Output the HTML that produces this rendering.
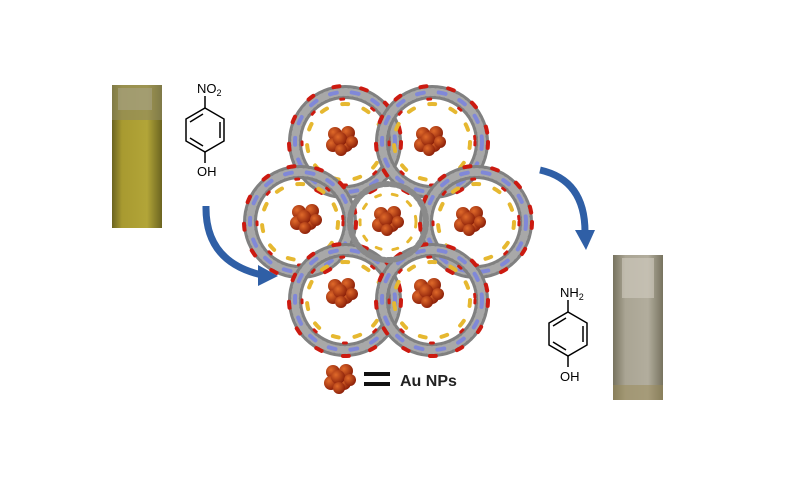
<!DOCTYPE html>
<html><head><meta charset="utf-8"><style>
html,body{margin:0;padding:0;background:#fff;}
body{width:794px;height:482px;overflow:hidden;position:relative;font-family:"Liberation Sans",sans-serif;}
</style></head><body>
<svg width="794" height="482" viewBox="0 0 794 482" xmlns="http://www.w3.org/2000/svg">
<defs>
<linearGradient id="lc" x1="0" y1="0" x2="1" y2="0">
<stop offset="0" stop-color="#6b6420"/><stop offset="0.2" stop-color="#a89a30"/><stop offset="0.7" stop-color="#b2a538"/><stop offset="1" stop-color="#6b6420"/></linearGradient>
<linearGradient id="rc" x1="0" y1="0" x2="1" y2="0">
<stop offset="0" stop-color="#77735f"/><stop offset="0.25" stop-color="#aaa594"/><stop offset="0.7" stop-color="#b2ad9d"/><stop offset="1" stop-color="#77735f"/></linearGradient>
<radialGradient id="au" cx="0.35" cy="0.35" r="0.7"><stop offset="0" stop-color="#e06a2a"/><stop offset="1" stop-color="#8a1e08"/></radialGradient>
<g id="cl">
<circle cx="-7" cy="-6" r="7" fill="url(#au)"/><circle cx="6" cy="-7" r="7" fill="url(#au)"/>
<circle cx="-9" cy="5" r="7" fill="url(#au)"/><circle cx="4" cy="5" r="7" fill="url(#au)"/>
<circle cx="-2" cy="-1" r="7" fill="url(#au)"/><circle cx="-1" cy="10" r="6" fill="url(#au)"/>
<circle cx="10" cy="2" r="6" fill="url(#au)"/>
</g>
<g id="pore">
<circle r="50" stroke="#808080" stroke-width="14"/>
<circle r="50" stroke="#a8a8a8" stroke-width="8" stroke-dasharray="2 3"/>
<circle r="56" stroke="#cc1a10" stroke-width="4" stroke-dasharray="6 22"/>
<circle r="50" stroke="#8088d8" stroke-width="4" stroke-dasharray="7 15"/>
<circle r="38" stroke="#e6b830" stroke-width="4" stroke-dasharray="6 16"/>
<circle r="43" stroke="#cc1a10" stroke-width="3" stroke-dasharray="3 30"/>
</g>
</defs>
<rect x="112" y="85" width="50" height="143" fill="url(#lc)"/>
<rect x="112" y="85" width="50" height="35" fill="#8e8862" opacity="0.6"/>
<rect x="118" y="88" width="34" height="22" fill="#a8a386" opacity="0.6"/>
<rect x="613" y="255" width="50" height="145" fill="url(#rc)"/>
<rect x="622" y="258" width="32" height="40" fill="#d0ccc0" opacity="0.6"/>
<rect x="613" y="385" width="50" height="15" fill="#9a8a55" opacity="0.5"/>
<g stroke="#000" stroke-width="1.5" fill="none">
<polygon points="205,108 224,119 224,141 205,152 186,141 186,119"/>
<line x1="220" y1="122" x2="220" y2="138"/><line x1="190" y1="122" x2="203" y2="114"/><line x1="190" y1="138" x2="203" y2="146"/>
<line x1="205" y1="108" x2="205" y2="96"/><line x1="205" y1="152" x2="205" y2="163"/>
</g>
<text x="197" y="93" font-size="13">NO<tspan font-size="9" dy="3">2</tspan></text>
<text x="197" y="176" font-size="13">OH</text>
<g stroke="#000" stroke-width="1.5" fill="none">
<polygon points="568,312 587,323 587,345 568,356 549,345 549,323"/>
<line x1="583" y1="326" x2="583" y2="342"/><line x1="553" y1="326" x2="566" y2="318"/><line x1="553" y1="342" x2="566" y2="350"/>
<line x1="568" y1="312" x2="568" y2="300"/><line x1="568" y1="356" x2="568" y2="367"/>
</g>
<text x="560" y="297" font-size="13">NH<tspan font-size="9" dy="3">2</tspan></text>
<text x="560" y="381" font-size="13">OH</text>
<path d="M206,206 Q205,262 262,275" stroke="#2f5fa6" stroke-width="7" fill="none"/>
<polygon points="258,265 278,276 258,286" fill="#2f5fa6"/>
<path d="M540,170 Q585,180 585,232" stroke="#2f5fa6" stroke-width="7" fill="none"/>
<polygon points="575,230 586,250 595,230" fill="#2f5fa6"/>
<g fill="none" stroke-linecap="round">
<use href="#pore" x="345" y="142"/><use href="#pore" x="432" y="142"/>
<use href="#pore" x="300" y="222"/><use href="#pore" x="476" y="222"/>
<use href="#pore" x="345" y="300"/><use href="#pore" x="432" y="300"/>
<circle cx="388" cy="222" r="38" stroke="#8a8a8a" stroke-width="6" stroke-dasharray="4 3"/>
<circle cx="388" cy="222" r="28" stroke="#e6b830" stroke-width="3" stroke-dasharray="5 12"/>
</g>
<use href="#cl" x="342" y="140"/><use href="#cl" x="430" y="140"/>
<use href="#cl" x="306" y="218"/><use href="#cl" x="388" y="220"/>
<use href="#cl" x="470" y="220"/><use href="#cl" x="342" y="292"/>
<use href="#cl" x="428" y="292"/>
<use href="#cl" x="340" y="378"/>
<rect x="364" y="372" width="26" height="4" fill="#111"/>
<rect x="364" y="382" width="26" height="4" fill="#111"/>
<text x="400" y="386" font-size="16" font-weight="bold" fill="#222">Au NPs</text>
</svg>
</body></html>
